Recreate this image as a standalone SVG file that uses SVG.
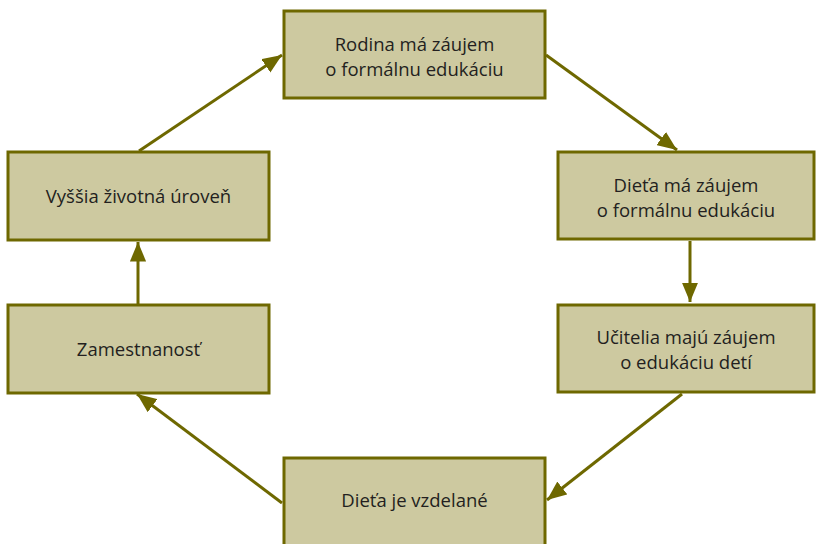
<svg xmlns="http://www.w3.org/2000/svg" width="816" height="544" viewBox="0 0 816 544">
<style>
.box{fill:#cdc9a0;stroke:#6e6800;stroke-width:3}
.t{font-family:"Open Sans","Noto Sans","Liberation Sans",sans-serif;font-size:18.5px;fill:#231f20;text-anchor:middle}
.c{stroke:#6e6800;stroke-width:3;fill:none;marker-end:url(#ah)}
</style>
<defs>
<marker id="ah" viewBox="0 0 12 10" refX="12" refY="5" markerWidth="6.5" markerHeight="5.5" markerUnits="strokeWidth" orient="auto">
<path d="M0,0 L12,5 L0,10 z" fill="#6e6800"/>
</marker>
</defs>
<rect width="816" height="544" fill="#fff"/>
<g id="connectors">
<line class="c" x1="139" y1="151" x2="282" y2="55"/>
<line class="c" x1="546" y1="55" x2="677" y2="150"/>
<line class="c" x1="690" y1="241" x2="690" y2="302"/>
<line class="c" x1="682" y1="394" x2="547" y2="500"/>
<line class="c" x1="282" y1="503" x2="137" y2="394"/>
<line class="c" x1="138" y1="304" x2="138" y2="242"/>
</g>
<g id="n1"><rect class="box" x="284" y="11" width="261" height="87"/>
<text class="t" x="414.5" y="51">Rodina má záujem</text><text class="t" x="414.5" y="76">o formálnu edukáciu</text></g>
<g id="n2"><rect class="box" x="558" y="152" width="256" height="87"/>
<text class="t" x="686" y="192">Dieťa má záujem</text><text class="t" x="686" y="217">o formálnu edukáciu</text></g>
<g id="n3"><rect class="box" x="558" y="305" width="256" height="87"/>
<text class="t" x="686" y="344">Učitelia majú záujem</text><text class="t" x="686" y="369">o edukáciu detí</text></g>
<g id="n4"><rect class="box" x="284" y="458" width="261" height="92"/>
<text class="t" x="414.5" y="507">Dieťa je vzdelané</text></g>
<g id="n5"><rect class="box" x="8" y="305" width="261" height="88"/>
<text class="t" x="138.5" y="356">Zamestnanosť</text></g>
<g id="n6"><rect class="box" x="8" y="152" width="261" height="88"/>
<text class="t" x="138.5" y="203">Vyššia životná úroveň</text></g>
</svg>
